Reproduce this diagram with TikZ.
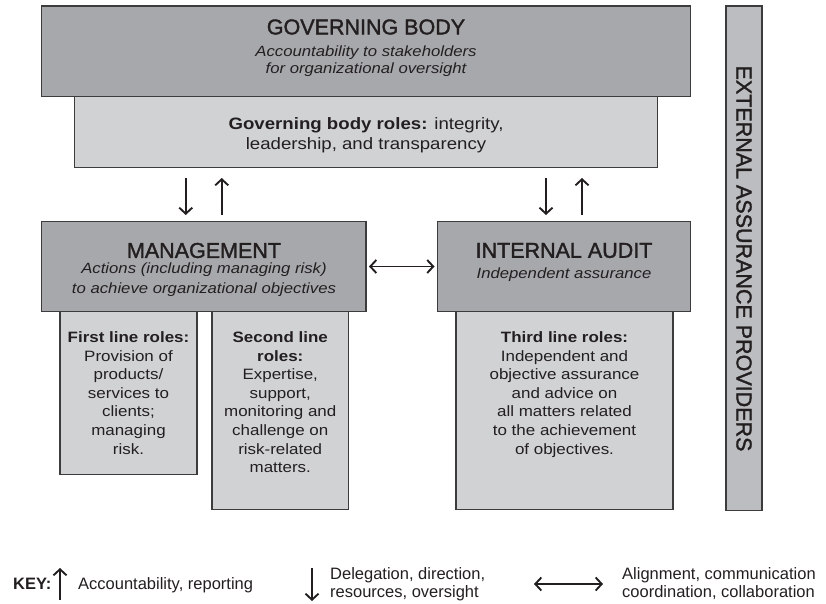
\documentclass[tikz,border=0pt]{standalone}
\usepackage{fontspec}
\setmainfont{Liberation Sans}
\newfontfamily\widefont[FakeStretch=1.13]{Liberation Sans}
\newfontfamily\headfont[FakeBold=1.6]{Liberation Sans}
\usetikzlibrary{arrows.meta}
\definecolor{darkfill}{HTML}{A7A8AB}
\definecolor{lightfill}{HTML}{D1D2D4}
\definecolor{barfill}{HTML}{BCBDC0}
\definecolor{edgec}{HTML}{3C3C3C}
\definecolor{ink}{HTML}{231F20}
\begin{document}
\begin{tikzpicture}[x=1pt,y=-1pt,
  box/.style={draw=edgec,line width=1.3pt,anchor=north west,inner sep=0pt,outer sep=0pt},
  darkbox/.style={box,fill=darkfill},
  lightbox/.style={box,fill=lightfill},
  headtext/.style={text=ink,inner sep=0pt,font=\headfont\fontsize{21.5}{24}\selectfont},
  subtext/.style={text=ink,inner sep=0pt,align=center,anchor=base,font=\widefont\itshape\fontsize{14.8}{20}\selectfont},
  roletext/.style={text=ink,inner sep=0pt,align=center,anchor=base,font=\widefont\fontsize{15}{18.6}\selectfont},
  keytext/.style={text=ink,inner sep=0pt,align=left,anchor=base west,font=\fontsize{16.5}{18.5}\selectfont},
  arrowline/.style={draw=ink,line width=1.9pt,-{Straight Barb[length=6pt,width=13pt]}},
  dblarrow/.style={draw=ink,line width=1.9pt,{Straight Barb[length=6pt,width=13pt]}-{Straight Barb[length=6pt,width=13pt]}}
]
\useasboundingbox (0,0) rectangle (826,604);

% boxes
\node[lightbox,minimum width=583pt,minimum height=71pt] (gbr) at (74.5,96.5) {};
\node[darkbox,minimum width=649pt,minimum height=90.5pt] (gb) at (41.5,6) {};
\node[lightbox,minimum width=137pt,minimum height=163pt] (l1) at (60,311.5) {};
\node[lightbox,minimum width=136.5pt,minimum height=198pt] (l2) at (212,311.5) {};
\node[lightbox,minimum width=217pt,minimum height=198pt] (l3) at (456,311.5) {};
\node[darkbox,minimum width=324.5pt,minimum height=90pt] (mg) at (41.5,221.5) {};
\node[darkbox,minimum width=253pt,minimum height=90pt] (ia) at (437.5,221.5) {};
\node[box,fill=barfill,minimum width=36pt,minimum height=504.5pt] (ext) at (726,6) {};

% texts (multi-line nodes: base = baseline of last line)
\node[headtext] (gbt) at (366,27) {GOVERNING BODY};
\node[subtext,font=\widefont\itshape\fontsize{14.8}{17}\selectfont] (gbs) at (366,74) {Accountability to stakeholders\\for organizational oversight};
\node[roletext,font=\widefont\fontsize{16.5}{20}\selectfont] (gbrt) at (366,149.5) {\textbf{Governing body roles:} integrity,\\leadership, and transparency};
\node[headtext] (mgt) at (204,250.5) {MANAGEMENT};
\node[subtext] (mgs) at (204,293.3) {Actions (including managing risk)\\to achieve organizational objectives};
\node[headtext] (iat) at (564,250.5) {INTERNAL AUDIT};
\node[subtext] (ias) at (564,278.3) {Independent assurance};
\node[roletext] (l1t) at (128.5,454) {\textbf{First line roles:}\\Provision of\\products/\\services to\\clients;\\managing\\risk.};
\node[roletext] (l2t) at (280.25,472.6) {\textbf{Second line}\\\textbf{roles:}\\Expertise,\\support,\\monitoring and\\challenge on\\risk-related\\matters.};
\node[roletext] (l3t) at (564.5,454) {\textbf{Third line roles:}\\Independent and\\objective assurance\\and advice on\\all matters related\\to the achievement\\of objectives.};
\node[headtext,rotate=-90] (extt) at (744,258.5) {EXTERNAL ASSURANCE PROVIDERS};

% connectors
\coordinate (mgL) at ([xshift=-18pt]mg.north);
\coordinate (mgR) at ([xshift=18pt]mg.north);
\coordinate (iaL) at ([xshift=-18pt]ia.north);
\coordinate (iaR) at ([xshift=18pt]ia.north);
\draw[arrowline,shorten <=10.5pt,shorten >=6.5pt] (gbr.south -| mgL) -- (mgL);
\draw[arrowline,shorten <=7pt,shorten >=10.5pt] (mgR) -- (gbr.south -| mgR);
\draw[arrowline,shorten <=10.5pt,shorten >=6.5pt] (gbr.south -| iaL) -- (iaL);
\draw[arrowline,shorten <=7pt,shorten >=10.5pt] (iaR) -- (gbr.south -| iaR);
\draw[dblarrow,shorten <=3pt,shorten >=3pt] (mg.east) -- (ia.west);

% key
\node[keytext,font=\bfseries\fontsize{16.5}{18.5}\selectfont] (key) at (13,589) {KEY:};
\coordinate (ku1) at (60,600);
\coordinate (ku2) at (60,568);
\draw[arrowline] (ku1) -- (ku2);
\node[keytext] (kt1) at (78,589) {Accountability, reporting};
\coordinate (kd1) at (312,568);
\coordinate (kd2) at (312,601);
\draw[arrowline] (kd1) -- (kd2);
\node[keytext] (kt2) at (330,597.5) {Delegation, direction,\\resources, oversight};
\coordinate (kb1) at (534,584);
\coordinate (kb2) at (603,584);
\draw[dblarrow] (kb1) -- (kb2);
\node[keytext] (kt3) at (622,597.5) {Alignment, communication\\coordination, collaboration};
\end{tikzpicture}
\end{document}
